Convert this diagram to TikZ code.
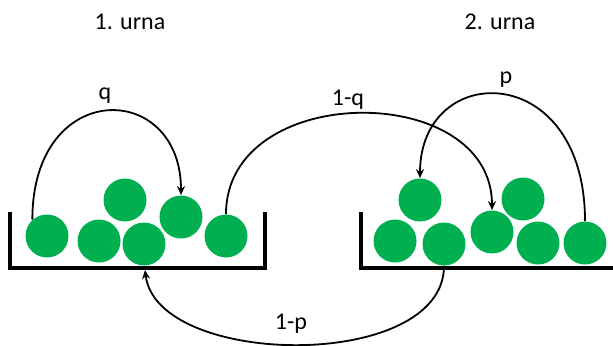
\documentclass[tikz,border=0pt]{standalone}
\usepackage{fontspec}
\setmainfont{Carlito}
\usepackage{tikz}
\usetikzlibrary{arrows.meta}
\definecolor{ballgreen}{RGB}{0,176,80}
\tikzset{
  ball/.style={circle, fill=ballgreen, inner sep=0pt, minimum size=21.5pt},
  urnln/.style={line width=1.6pt, line join=miter},
  moveln/.style={-{Stealth[length=4.5pt,width=4pt]}, line width=0.9pt},
  lbl/.style={font=\fontsize{12}{14}\selectfont, anchor=base},
}

\begin{document}
\begin{tikzpicture}[x=0.5pt,y=-0.5pt]
    \useasboundingbox (0,0) rectangle (613,345);
    % --- titles ---
    \node[lbl] (title1) at (130,29) {1. urna};
    \node[lbl] (title2) at (500,29) {2. urna};
    % --- 1. urna ---
    \draw[urnln] (10,212) -- (10,268) -- (265,268) -- (265,212);
    \coordinate (u1bot) at (145,270);
    \node[ball] (u1a) at (47,236) {};
    \node[ball] (u1b) at (99,241) {};
    \node[ball] (u1c) at (144,244) {};
    \node[ball] (u1d) at (125,200) {};
    \node[ball] (u1e) at (181,217) {};
    \node[ball] (u1f) at (226,236) {};
    % --- 2. urna ---
    \draw[urnln] (361,212) -- (361,268) -- (613,268);
    \node[ball] (u2a) at (395,241) {};
    \node[ball] (u2b) at (444,244) {};
    \node[ball] (u2c) at (420,200) {};
    \node[ball] (u2d) at (492,232) {};
    \node[ball] (u2e) at (523,199) {};
    \node[ball] (u2f) at (538,243) {};
    \node[ball] (u2g) at (585,243) {};
    % --- moves between the urns ---
    \draw[moveln] (u1a.132) .. controls +(0,-142) and +(0,-115) .. (u1e.north);
    \draw[moveln] (u1f.north) .. controls +(0,-133) and +(0,-130) .. (u2d.north);
    \draw[moveln] (u2g.north) .. controls +(0,-162) and +(0,-118) .. (u2c.north);
    \draw[moveln] (u2b.south) .. controls +(0,106) and +(12,98) .. (u1bot);
    % labels
    \node[lbl] (lq) at (105,99) {q};
    \node[lbl] (l1q) at (348,105) {1-q};
    \node[lbl] (lp) at (506,83) {p};
    \node[lbl] (l1p) at (291,329) {1-p};
\end{tikzpicture}
\end{document}
